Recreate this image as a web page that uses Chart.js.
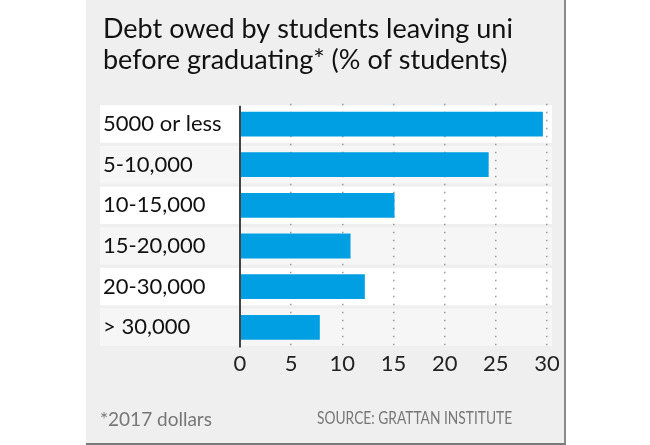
<!DOCTYPE html>
<html>
<head>
<meta charset="utf-8">
<script src="https://cdn.jsdelivr.net/npm/chart.js@4/dist/chart.umd.min.js"></script>
<style>
  body { margin: 0; background: #fff; width: 650px; height: 445px; overflow: hidden; font-family: Lato, sans-serif; }
  #panel { position: absolute; left: 86px; top: 0; width: 478px; height: 443px; background: #efefef;
           border-right: 2px solid #8a8a8a; border-bottom: 2px solid #7a7a7a; }
  #wrap { position: absolute; left: 0; top: 0; width: 478px; height: 443px; }
  .foot { position: absolute; top: 407px; color: #777; font-size: 19px; white-space: nowrap; }
  #note { left: 14px; }
  #src { left: 231px; font-size: 17px; transform: scaleX(0.81); transform-origin: left center; }
</style>
</head>
<body>
<div id="panel">
  <div id="wrap"><canvas id="grafico"></canvas></div>
  <div class="foot" id="note">*2017 dollars</div>
  <div class="foot" id="src">SOURCE: GRATTAN INSTITUTE</div>
</div>
<script>
const titulo = ['Debt owed by students leaving uni', 'before graduating* (% of students)'];
const categorias = ['5000 or less', '5-10,000', '10-15,000', '15-20,000', '20-30,000', '> 30,000'];
const valores = [29.6, 24.3, 15.1, 10.8, 12.2, 7.8];
const ticksX = [0, 5, 10, 15, 20, 25, 30];

// faixas alternadas atras das barras
const faixas = {
  id: 'faixas',
  beforeDraw(chart) {
    const c = chart.ctx, y = chart.scales.y;
    const passo = y.getPixelForValue(1) - y.getPixelForValue(0);
    const alt = passo * 0.92;
    c.save();
    categorias.forEach((cat, i) => {
      const cy = y.getPixelForValue(i);
      c.fillStyle = i % 2 === 0 ? '#ffffff' : '#f6f6f6';
      c.fillRect(14, cy - alt / 2, 452, alt);
    });
    c.restore();
  },
  afterDatasetsDraw(chart) {
    const c = chart.ctx, x = chart.scales.x, a = chart.chartArea;
    const x0 = x.getPixelForValue(0);
    c.save();
    c.strokeStyle = '#444';
    c.lineWidth = 2;
    c.beginPath();
    c.moveTo(x0, a.top + 2);
    c.lineTo(x0, a.bottom);
    c.stroke();
    c.restore();
  }
};

const ctx = document.getElementById('grafico');
new Chart(ctx, {
  type: 'bar',
  data: {
    labels: categorias,
    datasets: [{
      data: valores,
      backgroundColor: '#009fe3',
      borderWidth: 0,
      barPercentage: 0.61,
      categoryPercentage: 1
    }]
  },
  options: {
    indexAxis: 'y',
    responsive: true,
    maintainAspectRatio: false,
    animation: false,
    layout: { padding: { left: 17, right: 17, top: 0, bottom: 63 } },
    plugins: {
      legend: { display: false },
      tooltip: { enabled: false },
      title: {
        display: true,
        text: titulo,
        align: 'start',
        color: '#111',
        font: { family: 'Lato', size: 27, weight: 'normal', lineHeight: 1.18 },
        padding: { top: 13, bottom: 27 }
      }
    },
    scales: {
      x: {
        min: 0,
        max: 30,
        afterBuildTicks: s => { s.ticks = ticksX.map(v => ({ value: v })); },
        grid: {
          color: c => c.tick && c.tick.value === 0 ? 'transparent' : '#9a9a9a',
          lineWidth: 1.5,
          drawTicks: false
        },
        border: { display: false, dash: [1.5, 6.5] },
        ticks: { color: '#222', padding: 3, font: { family: 'Lato', size: 22 } }
      },
      y: {
        afterFit: s => { s.width = 137; },
        grid: { display: false, drawTicks: false },
        border: { display: false },
        ticks: { crossAlign: 'far', color: '#111', font: { family: 'Lato', size: 22 } }
      }
    }
  },
  plugins: [faixas]
});
</script>
</body>
</html>
